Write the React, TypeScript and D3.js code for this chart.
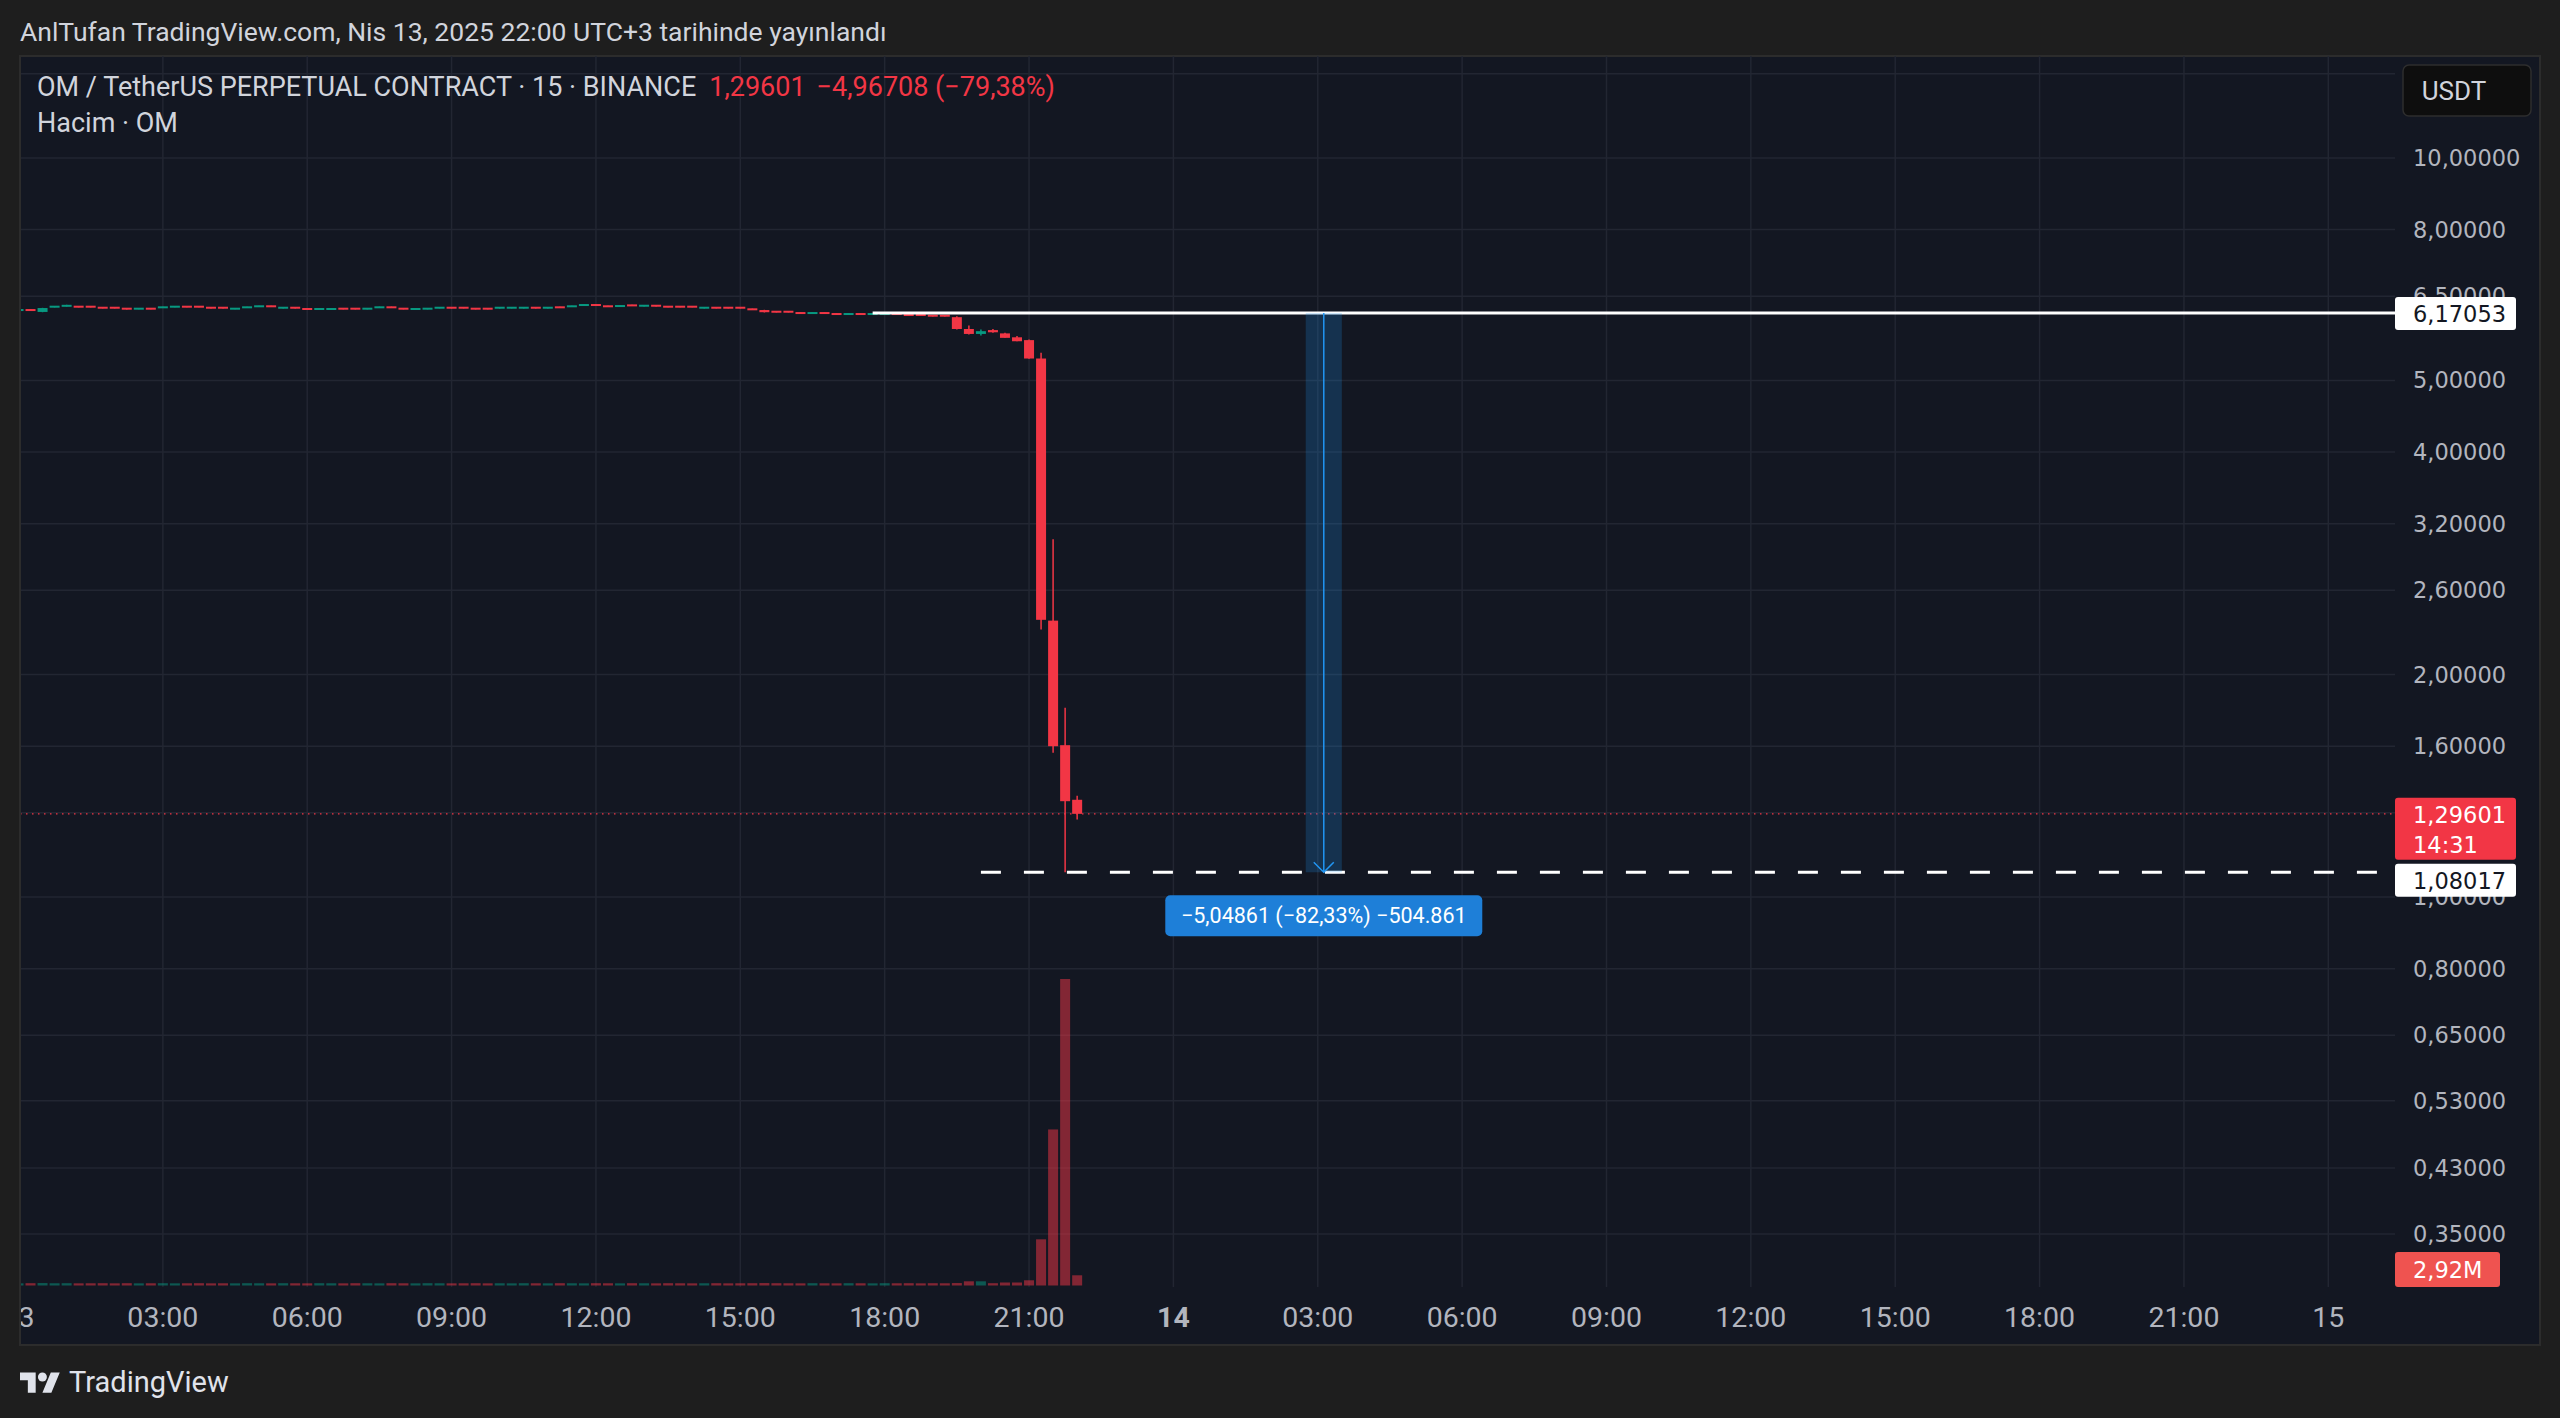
import * as d3 from "d3";
import { useEffect, useRef } from "react";

// OHLC of the 15 minute candles, 13 Apr 00:00 .. 22:00
const opens = [
  6.219, 6.235, 6.190, 6.284, 6.300, 6.300, 6.300, 6.280, 6.280, 6.261,
  6.245, 6.261, 6.272, 6.284, 6.300, 6.300, 6.280, 6.280, 6.245, 6.272,
  6.292, 6.308, 6.264, 6.280, 6.255, 6.239, 6.239, 6.261, 6.261, 6.245,
  6.272, 6.288, 6.261, 6.239, 6.245, 6.264, 6.280, 6.280, 6.261, 6.261,
  6.264, 6.264, 6.264, 6.280, 6.264, 6.288, 6.292, 6.317, 6.333, 6.308,
  6.297, 6.326, 6.303, 6.319, 6.300, 6.300, 6.300, 6.264, 6.280, 6.280,
  6.280, 6.249, 6.227, 6.202, 6.202, 6.177, 6.161, 6.177, 6.158, 6.142,
  6.158, 6.142, 6.142, 6.158, 6.139, 6.139, 6.126, 6.126, 6.090, 5.870,
  5.780, 5.850, 5.790, 5.720, 5.670, 5.354, 2.366, 1.605, 1.354,
];
const highs = [
  6.240, 6.240, 6.270, 6.305, 6.330, 6.305, 6.305, 6.285, 6.285, 6.266,
  6.266, 6.266, 6.293, 6.305, 6.305, 6.305, 6.285, 6.285, 6.266, 6.293,
  6.313, 6.313, 6.285, 6.285, 6.260, 6.260, 6.260, 6.266, 6.266, 6.266,
  6.293, 6.293, 6.266, 6.260, 6.266, 6.285, 6.285, 6.285, 6.266, 6.266,
  6.285, 6.285, 6.285, 6.285, 6.285, 6.293, 6.313, 6.338, 6.338, 6.313,
  6.318, 6.331, 6.324, 6.324, 6.305, 6.305, 6.305, 6.285, 6.285, 6.285,
  6.285, 6.254, 6.232, 6.207, 6.207, 6.182, 6.182, 6.182, 6.163, 6.163,
  6.163, 6.163, 6.163, 6.163, 6.144, 6.144, 6.131, 6.131, 6.110, 5.934,
  5.860, 5.870, 5.800, 5.745, 5.680, 5.451, 3.050, 1.804, 1.371,
];
const lows = [
  6.214, 6.214, 6.185, 6.279, 6.296, 6.279, 6.279, 6.259, 6.259, 6.236,
  6.240, 6.240, 6.267, 6.279, 6.279, 6.279, 6.259, 6.259, 6.240, 6.267,
  6.287, 6.287, 6.259, 6.255, 6.230, 6.234, 6.234, 6.240, 6.240, 6.240,
  6.267, 6.267, 6.240, 6.234, 6.240, 6.259, 6.259, 6.259, 6.240, 6.240,
  6.255, 6.259, 6.259, 6.259, 6.255, 6.267, 6.287, 6.312, 6.312, 6.287,
  6.285, 6.305, 6.298, 6.298, 6.279, 6.279, 6.279, 6.259, 6.259, 6.259,
  6.259, 6.228, 6.180, 6.181, 6.181, 6.150, 6.156, 6.150, 6.137, 6.137,
  6.137, 6.137, 6.137, 6.137, 6.118, 6.118, 6.105, 6.105, 5.860, 5.770,
  5.750, 5.800, 5.710, 5.650, 5.350, 2.302, 1.568, 1.08017, 1.273,
];
const closes = [
  6.235, 6.219, 6.266, 6.300, 6.319, 6.284, 6.284, 6.264, 6.264, 6.245,
  6.261, 6.245, 6.288, 6.300, 6.284, 6.284, 6.264, 6.264, 6.261, 6.288,
  6.308, 6.292, 6.280, 6.264, 6.239, 6.255, 6.255, 6.245, 6.245, 6.261,
  6.288, 6.272, 6.245, 6.255, 6.261, 6.280, 6.264, 6.264, 6.245, 6.245,
  6.280, 6.280, 6.280, 6.264, 6.280, 6.272, 6.308, 6.333, 6.317, 6.292,
  6.313, 6.310, 6.319, 6.303, 6.284, 6.284, 6.284, 6.280, 6.264, 6.264,
  6.264, 6.233, 6.185, 6.186, 6.186, 6.161, 6.177, 6.161, 6.142, 6.158,
  6.142, 6.158, 6.158, 6.142, 6.123, 6.123, 6.110, 6.110, 5.870, 5.780,
  5.830, 5.810, 5.710, 5.650, 5.354, 2.372, 1.600, 1.348, 1.29601,
];
// volume in millions OM
const volumes = [
  0.62, 0.66, 0.70, 0.64, 0.66, 0.62, 0.64, 0.66, 0.62, 0.66,
  0.62, 0.64, 0.66, 0.62, 0.64, 0.66, 0.62, 0.64, 0.62, 0.66,
  0.64, 0.62, 0.66, 0.64, 0.62, 0.66, 0.64, 0.62, 0.66, 0.64,
  0.62, 0.66, 0.64, 0.62, 0.66, 0.64, 0.62, 0.64, 0.66, 0.62,
  0.64, 0.62, 0.66, 0.64, 0.62, 0.66, 0.64, 0.62, 0.66, 0.64,
  0.62, 0.66, 0.64, 0.62, 0.66, 0.64, 0.62, 0.64, 0.66, 0.62,
  0.64, 0.66, 0.70, 0.66, 0.64, 0.62, 0.66, 0.64, 0.62, 0.66,
  0.64, 0.62, 0.66, 0.64, 0.66, 0.62, 0.66, 0.64, 0.70, 1.20,
  1.20, 0.66, 0.86, 0.86, 1.49, 13.2, 44.6, 87.6, 2.92,
];

// grid levels; the labels at 13 and 1,3 sit under the USDT button and the last-price tag
const priceTicks = [13, 10, 8, 6.5, 5, 4, 3.2, 2.6, 2, 1.6, 1.3, 1, 0.8, 0.65, 0.53, 0.43, 0.35];
const priceLabels = [10, 8, 6.5, 5, 4, 3.2, 2.6, 2, 1.6, 1, 0.8, 0.65, 0.53, 0.43, 0.35];
const timeLabels = [
  "13", "03:00", "06:00", "09:00", "12:00", "15:00", "18:00", "21:00",
  "14", "03:00", "06:00", "09:00", "12:00", "15:00", "18:00", "21:00", "15",
];
const boldLabels = ["14"];

const lastPrice = 1.29601;
const lastCountdown = "14:31";
const lastVolume = "2,92M";
const measureHigh = 6.17053;
const measureLow = 1.08017;
const measureText = "\u22125,04861 (\u221282,33%) \u2212504.861";
const measureFromBar = 107;
const measureToBar = 110;
const highLineFromBar = 71;
const lowLineFromBar = 80;

const red = "#f23645";
const teal = "#089981";

export default function App() {
  const width = 2560;
  const height = 1418;
  const panelLeft = 20;
  const panelTop = 56;
  const panelRight = 2540;
  const panelBottom = 1345;
  const plotRight = 2395;
  const plotBottom = 1287;
  const font = "Roboto, 'Noto Sans', sans-serif";
  const axisFont = "'DejaVu Sans', Verdana, sans-serif";
  const axisSize = 22.5;

  const svgRef = useRef<SVGSVGElement>(null);

  useEffect(() => {
    const svgEl = d3.select(svgRef.current);
    svgEl.selectAll("*").remove();

    const start = new Date(2025, 3, 13, 0, 0);
    const end = new Date(2025, 3, 15, 0, 0);
    const xScale = d3.scaleTime([start, end], [18.5, 2328.3]);
    const barTime = (i: number) => d3.timeMinute.offset(start, 15 * i);
    const bx = (i: number) => xScale(barTime(i));

    const yScale = d3.scaleLog([0.35, 10], [1234, 158]);
    const vScale = d3.scaleLinear([0, d3.max(volumes) as number], [1285.5, 979]);
    const fmt = (v: number) => d3.format(".5f")(v).replace(".", ",");

    // backgrounds
    svgEl.append("rect").attr("width", width).attr("height", height).attr("fill", "#1e1e1e");
    svgEl.append("rect")
      .attr("x", panelLeft).attr("y", panelTop)
      .attr("width", panelRight - panelLeft).attr("height", panelBottom - panelTop)
      .attr("fill", "#131722").attr("stroke", "#2c2c2c").attr("stroke-width", 2);

    const defs = svgEl.append("defs");
    defs.append("clipPath").attr("id", "plot")
      .append("rect").attr("x", panelLeft + 1).attr("y", panelTop)
      .attr("width", plotRight - panelLeft - 1).attr("height", plotBottom - panelTop);
    defs.append("clipPath").attr("id", "timeaxis")
      .append("rect").attr("x", panelLeft + 1).attr("y", plotBottom)
      .attr("width", plotRight - panelLeft).attr("height", panelBottom - plotBottom);

    const plot = svgEl.append("g").attr("clip-path", "url(#plot)");

    // grid
    const tickTimes = d3.range(timeLabels.length).map(i => d3.timeHour.offset(start, 3 * i));
    plot.selectAll(".vgrid").data(tickTimes).join("line")
      .attr("x1", d => xScale(d)).attr("x2", d => xScale(d))
      .attr("y1", panelTop).attr("y2", plotBottom)
      .attr("stroke", "#222632").attr("stroke-width", 1.5);
    plot.selectAll(".hgrid").data(priceTicks).join("line")
      .attr("x1", panelLeft).attr("x2", plotRight)
      .attr("y1", d => yScale(d)).attr("y2", d => yScale(d))
      .attr("stroke", "#222632").attr("stroke-width", 1.5);

    // volume
    plot.selectAll(".vol").data(volumes).join("rect")
      .attr("x", (d, i) => bx(i) - 5)
      .attr("width", 10)
      .attr("y", d => vScale(d))
      .attr("height", d => vScale(0) - vScale(d))
      .attr("fill", (d, i) => closes[i] >= opens[i] ? teal : red)
      .attr("opacity", 0.5);

    // last price dotted line
    plot.append("line")
      .attr("x1", panelLeft).attr("x2", plotRight)
      .attr("y1", yScale(lastPrice)).attr("y2", yScale(lastPrice))
      .attr("stroke", red).attr("stroke-width", 1.2).attr("stroke-dasharray", "1.5 4.5");

    // candles
    const candles = plot.selectAll(".candle").data(opens).join("g");
    candles.append("line")
      .attr("x1", (d, i) => bx(i)).attr("x2", (d, i) => bx(i))
      .attr("y1", (d, i) => yScale(highs[i])).attr("y2", (d, i) => yScale(lows[i]))
      .attr("stroke", (d, i) => closes[i] >= opens[i] ? teal : red)
      .attr("stroke-width", 1.5);
    candles.append("rect")
      .attr("x", (d, i) => bx(i) - 5)
      .attr("width", 10)
      .attr("y", (d, i) => {
        const top = yScale(Math.max(opens[i], closes[i]));
        const bot = yScale(Math.min(opens[i], closes[i]));
        return bot - top < 2 ? (top + bot) / 2 - 1 : top;
      })
      .attr("height", (d, i) => Math.max(2, yScale(Math.min(opens[i], closes[i])) - yScale(Math.max(opens[i], closes[i]))))
      .attr("fill", (d, i) => closes[i] >= opens[i] ? teal : red);

    // horizontal levels
    plot.append("line")
      .attr("x1", bx(highLineFromBar)).attr("x2", plotRight)
      .attr("y1", yScale(measureHigh)).attr("y2", yScale(measureHigh))
      .attr("stroke", "#ffffff").attr("stroke-width", 3);
    plot.append("line")
      .attr("x1", bx(lowLineFromBar)).attr("x2", plotRight)
      .attr("y1", yScale(measureLow)).attr("y2", yScale(measureLow))
      .attr("stroke", "#ffffff").attr("stroke-width", 3).attr("stroke-dasharray", "20 23");

    // measure tool
    const mx0 = bx(measureFromBar);
    const mx1 = bx(measureToBar);
    const mxc = (mx0 + mx1) / 2;
    const myTop = yScale(measureHigh);
    const myBot = yScale(measureLow);
    plot.append("rect")
      .attr("x", mx0).attr("y", myTop).attr("width", mx1 - mx0).attr("height", myBot - myTop)
      .attr("fill", "rgba(33,150,243,0.22)");
    plot.append("line")
      .attr("x1", mxc).attr("x2", mxc).attr("y1", myTop).attr("y2", myBot)
      .attr("stroke", "#2196f3").attr("stroke-width", 1.5);
    plot.append("path")
      .attr("d", `M${mxc - 10},${myBot - 10}L${mxc},${myBot}L${mxc + 10},${myBot - 10}`)
      .attr("fill", "none").attr("stroke", "#2196f3").attr("stroke-width", 1.5);
    const labelW = 317;
    const labelH = 41;
    const labelY = myBot + 23;
    svgEl.append("rect")
      .attr("x", mxc - labelW / 2).attr("y", labelY).attr("width", labelW).attr("height", labelH)
      .attr("rx", 5).attr("fill", "#1e7fd8");
    svgEl.append("text")
      .attr("x", mxc).attr("y", labelY + labelH / 2)
      .attr("text-anchor", "middle").attr("dominant-baseline", "central")
      .attr("font-family", font).attr("font-size", 21.5).attr("fill", "#ffffff")
      .text(measureText);

    // price axis
    svgEl.selectAll(".plabel").data(priceLabels).join("text")
      .attr("x", 2413).attr("y", d => yScale(d))
      .attr("dominant-baseline", "central")
      .attr("font-family", axisFont).attr("font-size", axisSize).attr("fill", "#b2b5be")
      .text(d => fmt(d));

    const tag = (y: number, h: number, fill: string, color: string, lines: string[]) => {
      svgEl.append("rect")
        .attr("x", plotRight).attr("y", y).attr("width", 121).attr("height", h)
        .attr("rx", 3).attr("fill", fill);
      lines.forEach((t, k) => {
        svgEl.append("text")
          .attr("x", 2413).attr("y", y + 17 + k * 30).attr("dominant-baseline", "central")
          .attr("font-family", axisFont).attr("font-size", axisSize).attr("fill", color)
          .text(t);
      });
    };
    tag(yScale(measureHigh) - 16, 33, "#ffffff", "#131722", [fmt(measureHigh)]);
    const lastTop = yScale(lastPrice) - 16;
    tag(lastTop, 62, red, "#ffffff", [fmt(lastPrice), lastCountdown]);
    // pushed below the last-price tag so they do not collide
    tag(Math.max(yScale(measureLow) - 16, lastTop + 66), 33, "#ffffff", "#131722", [fmt(measureLow)]);

    // volume label
    svgEl.append("rect")
      .attr("x", plotRight).attr("y", 1252).attr("width", 105).attr("height", 35)
      .attr("rx", 3).attr("fill", "#ef5350");
    svgEl.append("text")
      .attr("x", 2413).attr("y", 1270).attr("dominant-baseline", "central")
      .attr("font-family", axisFont).attr("font-size", axisSize).attr("fill", "#ffffff")
      .text(lastVolume);

    // currency button
    svgEl.append("rect")
      .attr("x", 2403).attr("y", 65).attr("width", 128).attr("height", 51)
      .attr("rx", 6).attr("fill", "#0e0e0e").attr("stroke", "#2e2e2e").attr("stroke-width", 1.5);
    svgEl.append("text")
      .attr("x", 2454).attr("y", 91).attr("text-anchor", "middle").attr("dominant-baseline", "central")
      .attr("font-family", font).attr("font-size", 26).attr("fill", "#d1d4dc")
      .text("USDT");

    // time axis
    svgEl.append("g").attr("clip-path", "url(#timeaxis)")
      .selectAll("text").data(timeLabels).join("text")
      .attr("x", (d, i) => xScale(tickTimes[i]))
      .attr("y", 1317)
      .attr("text-anchor", "middle").attr("dominant-baseline", "central")
      .attr("font-family", font).attr("font-size", 28.5)
      .attr("font-weight", d => boldLabels.includes(d) ? 700 : 400)
      .attr("fill", "#b2b5be")
      .text(d => d);

    // header & legend
    svgEl.append("text")
      .attr("x", 20).attr("y", 31).attr("dominant-baseline", "central")
      .attr("font-family", font).attr("font-size", 26.5).attr("fill", "#d1d4dc")
      .text("AnlTufan TradingView.com, Nis 13, 2025 22:00 UTC+3 tarihinde yayınlandı");
    const legend = svgEl.append("text")
      .attr("x", 37).attr("y", 87).attr("dominant-baseline", "central")
      .attr("font-family", font).attr("font-size", 27).attr("fill", "#d1d4dc");
    legend.append("tspan").text("OM / TetherUS PERPETUAL CONTRACT · 15 · BINANCE");
    legend.append("tspan").attr("dx", 13).attr("fill", red).text("1,29601");
    legend.append("tspan").attr("dx", 11).attr("fill", red).text("\u22124,96708 (\u221279,38%)");
    svgEl.append("text")
      .attr("x", 37).attr("y", 123).attr("dominant-baseline", "central")
      .attr("font-family", font).attr("font-size", 27).attr("fill", "#d1d4dc")
      .text("Hacim · OM");

    // TradingView logo
    const logo = svgEl.append("g").attr("transform", "translate(20,1368) scale(1.12)").attr("fill", "#e0e3eb");
    logo.append("path").attr("d", "M14 22H7V11H0V4h14v18zM28 22h-8l7.5-18h8L28 22z");
    logo.append("circle").attr("cx", 20).attr("cy", 8).attr("r", 4);
    svgEl.append("text")
      .attr("x", 69).attr("y", 1382).attr("dominant-baseline", "central")
      .attr("font-family", font).attr("font-size", 29).attr("fill", "#e0e3eb")
      .text("TradingView");
  }, []);

  return (
    <svg
      ref={svgRef}
      width={width}
      height={height}
      style={{ position: "absolute", left: 0, top: 0, display: "block" }}
      xmlns="http://www.w3.org/2000/svg"
    >
    </svg>
  );
}
